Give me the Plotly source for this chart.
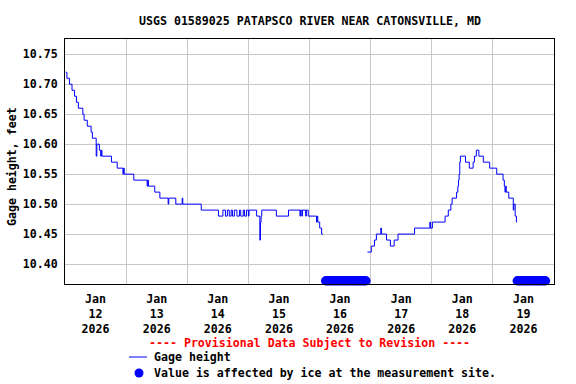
import pandas as pd
import plotly.graph_objects as go

# ---------------- data ----------------
gage_times = [
    "2026-01-12 00:15", "2026-01-12 00:45", "2026-01-12 01:45", "2026-01-12 02:45",
    "2026-01-12 03:45", "2026-01-12 04:30", "2026-01-12 05:15", "2026-01-12 07:00",
    "2026-01-12 07:30", "2026-01-12 08:45", "2026-01-12 10:15", "2026-01-12 10:45",
    "2026-01-12 12:15", "2026-01-12 12:30", "2026-01-12 13:30", "2026-01-12 14:00",
    "2026-01-12 14:15", "2026-01-12 14:30", "2026-01-12 18:15", "2026-01-12 20:30",
    "2026-01-12 22:45", "2026-01-12 23:00", "2026-01-12 23:15",
    "2026-01-13 03:00", "2026-01-13 08:15", "2026-01-13 08:30", "2026-01-13 08:45",
    "2026-01-13 11:15", "2026-01-13 13:15", "2026-01-13 16:30", "2026-01-13 16:45",
    "2026-01-13 19:30", "2026-01-13 22:00", "2026-01-13 22:15",
    "2026-01-14 05:30", "2026-01-14 12:15", "2026-01-14 14:00", "2026-01-14 15:00",
    "2026-01-14 15:45", "2026-01-14 16:30", "2026-01-14 17:15", "2026-01-14 17:45",
    "2026-01-14 18:30", "2026-01-14 19:30", "2026-01-14 20:30", "2026-01-14 21:00",
    "2026-01-14 22:00", "2026-01-14 22:30", "2026-01-14 23:15",
    "2026-01-15 00:00", "2026-01-15 00:15", "2026-01-15 03:15", "2026-01-15 04:30",
    "2026-01-15 04:45", "2026-01-15 05:00", "2026-01-15 05:15", "2026-01-15 11:00",
    "2026-01-15 15:45", "2026-01-15 20:15", "2026-01-15 20:30", "2026-01-15 21:00",
    "2026-01-15 21:15", "2026-01-15 22:30", "2026-01-15 22:45", "2026-01-15 23:30",
    "2026-01-16 02:45", "2026-01-16 03:00", "2026-01-16 03:15", "2026-01-16 04:00",
    "2026-01-16 04:45", "2026-01-16 05:15",
    "2026-01-16 12:00",
    "2026-01-16 22:45", "2026-01-17 00:15", "2026-01-17 01:30", "2026-01-17 02:15",
    "2026-01-17 04:00", "2026-01-17 04:15", "2026-01-17 06:15", "2026-01-17 07:45",
    "2026-01-17 09:15", "2026-01-17 10:45", "2026-01-17 17:15", "2026-01-17 23:15",
    "2026-01-17 23:30",
    "2026-01-18 00:15", "2026-01-18 05:15", "2026-01-18 05:45", "2026-01-18 06:30",
    "2026-01-18 07:30", "2026-01-18 08:00", "2026-01-18 09:45", "2026-01-18 10:15",
    "2026-01-18 10:30", "2026-01-18 10:45", "2026-01-18 11:00", "2026-01-18 11:15",
    "2026-01-18 13:15", "2026-01-18 14:45", "2026-01-18 16:15", "2026-01-18 16:45",
    "2026-01-18 17:30", "2026-01-18 18:30", "2026-01-18 20:15", "2026-01-18 22:45",
    "2026-01-19 01:30", "2026-01-19 04:00", "2026-01-19 04:30", "2026-01-19 04:45",
    "2026-01-19 05:00", "2026-01-19 05:15", "2026-01-19 06:15", "2026-01-19 08:00",
    "2026-01-19 08:15", "2026-01-19 08:45", "2026-01-19 09:00", "2026-01-19 09:15",
    "2026-01-19 09:30",
]
gage_values = [
    10.72, 10.71, 10.70, 10.69,
    10.68, 10.67, 10.66, 10.65,
    10.64, 10.63, 10.62, 10.61,
    10.58, 10.60, 10.59, 10.58,
    10.59, 10.58, 10.57, 10.56,
    10.55, 10.56, 10.55,
    10.54, 10.53, 10.54, 10.53,
    10.52, 10.51, 10.50, 10.51,
    10.50, 10.51, 10.50,
    10.49, 10.48, 10.49, 10.48,
    10.49, 10.48, 10.49, 10.48,
    10.49, 10.48, 10.49, 10.48,
    10.49, 10.48, 10.49,
    10.48, 10.49, 10.48, 10.44,
    10.47, 10.48, 10.49, 10.48,
    10.49, 10.48, 10.49, 10.48,
    10.49, 10.48, 10.49, 10.48,
    10.47, 10.48, 10.47, 10.46,
    10.45, 10.45,
    None,
    10.42, 10.43, 10.44, 10.45,
    10.46, 10.45, 10.44, 10.43,
    10.44, 10.45, 10.46, 10.47,
    10.46,
    10.47, 10.48, 10.48, 10.49,
    10.50, 10.51, 10.52, 10.53,
    10.54, 10.55, 10.57, 10.58,
    10.57, 10.56, 10.57, 10.58,
    10.59, 10.58, 10.57, 10.56,
    10.55, 10.54, 10.53, 10.52,
    10.53, 10.52, 10.51, 10.49,
    10.50, 10.48, 10.48, 10.47,
    10.47,
]

ice_starts = ["2026-01-16 06:15", "2026-01-19 09:30"]
ice_ends = ["2026-01-16 22:15", "2026-01-19 20:45"]
ice_level = 10.372

tick_times = ["2026-01-12 12:00", "2026-01-13 12:00", "2026-01-14 12:00", "2026-01-15 12:00",
              "2026-01-16 12:00", "2026-01-17 12:00", "2026-01-18 12:00", "2026-01-19 12:00"]
tick_labels = ["Jan<br>12<br>2026", "Jan<br>13<br>2026", "Jan<br>14<br>2026", "Jan<br>15<br>2026",
               "Jan<br>16<br>2026", "Jan<br>17<br>2026", "Jan<br>18<br>2026", "Jan<br>19<br>2026"]
grid_days = ["2026-01-13", "2026-01-14", "2026-01-15", "2026-01-16",
             "2026-01-17", "2026-01-18", "2026-01-19"]
y_ticks = [10.40, 10.45, 10.50, 10.55, 10.60, 10.65, 10.70, 10.75]

# ---------------- figure ----------------
W, H = 576, 384
L, R, T, B = 65, 554, 39, 284
FONT = "DejaVu Sans Mono"
FS = 11.6


def px(x):
    return (x - L) / (R - L)


def py(y):
    return (B - y) / (B - T)


ice_times = []
for s, e in zip(ice_starts, ice_ends):
    ice_times += list(pd.date_range(s, e, freq="15min"))

fig = go.Figure()
fig.add_trace(go.Scatter(
    x=pd.to_datetime(gage_times), y=gage_values, mode="lines",
    line=dict(color="#0000ff", width=1, shape="hv"),
    connectgaps=False, showlegend=False, hoverinfo="skip"))
fig.add_trace(go.Scatter(
    x=ice_times, y=[ice_level] * len(ice_times), mode="markers",
    marker=dict(color="#0000ff", size=9, line=dict(width=0)),
    cliponaxis=False, showlegend=False, hoverinfo="skip"))

fig.update_layout(
    width=W, height=H,
    margin=dict(l=L, r=W - R, t=T, b=H - B, autoexpand=False),
    paper_bgcolor="white", plot_bgcolor="white",
    font=dict(family=FONT, size=FS, color="black", weight="bold"),
    showlegend=False,
)
fig.update_xaxes(
    range=["2026-01-12 00:00", "2026-01-20 00:00"],
    tickmode="array", tickvals=tick_times, ticktext=tick_labels,
    showgrid=False, ticks="", ticklabelstandoff=4,
    minor=dict(tickmode="array", tickvals=grid_days, showgrid=True,
               gridcolor="#c8c8c8", gridwidth=1, ticks=""),
    showline=True, linecolor="black", linewidth=1, mirror=True, zeroline=False,
)
fig.update_yaxes(
    range=[10.3667, 10.7755],
    tickmode="array", tickvals=y_ticks, tickformat=".2f",
    showgrid=True, gridcolor="#c8c8c8", gridwidth=1, ticks="", ticklabelstandoff=4,
    showline=True, linecolor="black", linewidth=1, mirror=True, zeroline=False,
)

annotations = [
    dict(text="USGS 01589025 PATAPSCO RIVER NEAR CATONSVILLE, MD",
         x=px(309.5), y=py(21), xanchor="center", yanchor="middle"),
    dict(text="Gage height, feet", textangle=-90,
         x=px(12), y=py(167), xanchor="center", yanchor="middle"),
    dict(text="---- Provisional Data Subject to Revision ----", font=dict(color="#ff0000"),
         x=px(309), y=py(343), xanchor="center", yanchor="middle"),
    dict(text="Gage height", x=px(152), y=py(357), xanchor="left", yanchor="middle"),
    dict(text="Value is affected by ice at the measurement site.",
         x=px(152), y=py(373), xanchor="left", yanchor="middle"),
]
for a in annotations:
    a.update(xref="paper", yref="paper", showarrow=False)
    fig.add_annotation(**a)

fig.add_shape(type="line", xref="paper", yref="paper",
              x0=px(129), x1=px(147), y0=py(357), y1=py(357),
              line=dict(color="#0000ff", width=1))
fig.add_shape(type="circle", xref="paper", yref="paper",
              x0=px(134.5), x1=px(143.5), y0=py(368.5), y1=py(377.5),
              fillcolor="#0000ff", line=dict(width=0))

fig.write_html("out.html",
               config={"displayModeBar": False, "staticPlot": True},
               post_script="document.body.style.margin='0';document.body.style.padding='0';")
